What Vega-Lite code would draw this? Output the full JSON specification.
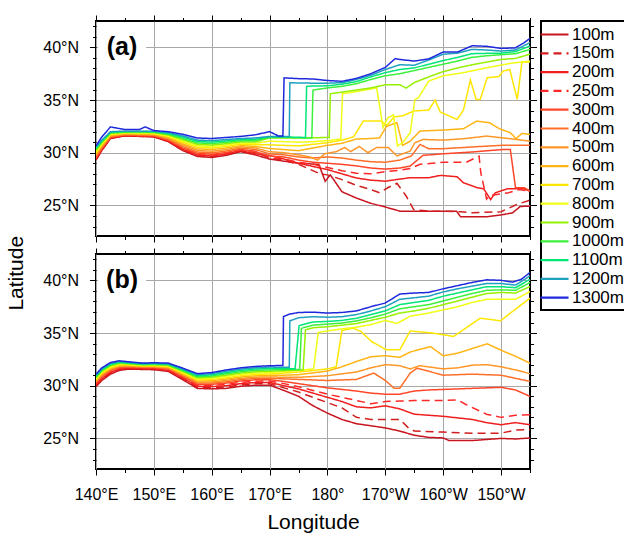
{
"$schema":"https://vega.github.io/schema/vega-lite/v6.json",
"background":"white",
"padding":{"left":5,"top":13,"right":0,"bottom":0},
"config":{
 "font":"Liberation Sans",
 "view":{"stroke":"black","strokeWidth":2},
 "axis":{"labelFont":"Liberation Sans","labelFontSize":16,"labelColor":"black","domain":false,"tickColor":"black","tickWidth":1,"gridColor":"#a8a8a8","gridWidth":1,"titleFont":"Liberation Sans","titleFontWeight":"normal","titleFontSize":21,"titleColor":"black","labelFlush":false,"labelOverlap":false},
 "legend":{"title":null,"orient":"right","offset":3,"labelFont":"Liberation Sans","labelFontSize":17,"labelColor":"black","symbolType":"M-1.7,0H1.7","symbolSize":272,"symbolStrokeWidth":2.2,"rowPadding":0.8,"padding":4,"labelOffset":8,"strokeColor":"black","strokeWidth":2,"fillColor":"white"}
},
"title":{"text":"Latitude","orient":"left","anchor":"middle","fontSize":21,"fontWeight":"normal","font":"Liberation Sans","color":"black","offset":15},
"datasets":{"d":[
{"p":"a","s":"100m","x":140,"y":29.3},{"p":"a","s":"100m","x":141,"y":30.2},{"p":"a","s":"100m","x":142.5,"y":31.35},{"p":"a","s":"100m","x":145,"y":31.6},{"p":"a","s":"100m","x":147.5,"y":31.55},{"p":"a","s":"100m","x":150,"y":31.5},{"p":"a","s":"100m","x":152.5,"y":31.05},{"p":"a","s":"100m","x":155,"y":30.2},{"p":"a","s":"100m","x":157.5,"y":29.65},{"p":"a","s":"100m","x":160,"y":29.55},{"p":"a","s":"100m","x":162.5,"y":29.75},{"p":"a","s":"100m","x":165,"y":30.1},{"p":"a","s":"100m","x":167.5,"y":29.8},{"p":"a","s":"100m","x":170,"y":29.4},{"p":"a","s":"100m","x":172.5,"y":29.2},{"p":"a","s":"100m","x":175,"y":29.0},{"p":"a","s":"100m","x":178.5,"y":28.9},{"p":"a","s":"100m","x":179.6,"y":27.3},{"p":"a","s":"100m","x":180.5,"y":27.9},{"p":"a","s":"100m","x":182.5,"y":26.3},{"p":"a","s":"100m","x":185,"y":25.7},{"p":"a","s":"100m","x":187.5,"y":25.2},{"p":"a","s":"100m","x":190,"y":24.85},{"p":"a","s":"100m","x":192.5,"y":24.46},{"p":"a","s":"100m","x":200,"y":24.46},{"p":"a","s":"100m","x":202.3,"y":24.46},{"p":"a","s":"100m","x":203,"y":23.92},{"p":"a","s":"100m","x":207.5,"y":23.92},{"p":"a","s":"100m","x":210,"y":24.1},{"p":"a","s":"100m","x":212,"y":24.3},{"p":"a","s":"100m","x":213.3,"y":24.9},{"p":"a","s":"100m","x":215,"y":24.94},
{"p":"a","s":"150m","x":140,"y":29.35},{"p":"a","s":"150m","x":141,"y":30.24},{"p":"a","s":"150m","x":142.5,"y":31.38},{"p":"a","s":"150m","x":145,"y":31.62},{"p":"a","s":"150m","x":147.5,"y":31.57},{"p":"a","s":"150m","x":150,"y":31.52},{"p":"a","s":"150m","x":152.5,"y":31.09},{"p":"a","s":"150m","x":155,"y":30.26},{"p":"a","s":"150m","x":157.5,"y":29.72},{"p":"a","s":"150m","x":160,"y":29.62},{"p":"a","s":"150m","x":162.5,"y":29.81},{"p":"a","s":"150m","x":165,"y":30.15},{"p":"a","s":"150m","x":167.5,"y":30.05},{"p":"a","s":"150m","x":170,"y":29.5},{"p":"a","s":"150m","x":172.5,"y":29.3},{"p":"a","s":"150m","x":175,"y":28.9},{"p":"a","s":"150m","x":178.7,"y":28.0},{"p":"a","s":"150m","x":180,"y":27.9},{"p":"a","s":"150m","x":182.5,"y":27.45},{"p":"a","s":"150m","x":185,"y":26.9},{"p":"a","s":"150m","x":187.5,"y":26.5},{"p":"a","s":"150m","x":189,"y":26.2},{"p":"a","s":"150m","x":190.5,"y":26.7},{"p":"a","s":"150m","x":192,"y":27.1},{"p":"a","s":"150m","x":193.6,"y":25.9},{"p":"a","s":"150m","x":194.9,"y":24.6},{"p":"a","s":"150m","x":197.5,"y":24.45},{"p":"a","s":"150m","x":200,"y":24.45},{"p":"a","s":"150m","x":203,"y":24.4},{"p":"a","s":"150m","x":205,"y":24.3},{"p":"a","s":"150m","x":210,"y":24.4},{"p":"a","s":"150m","x":212.7,"y":25.09},{"p":"a","s":"150m","x":215,"y":25.5},
{"p":"a","s":"200m","x":140,"y":29.41},{"p":"a","s":"200m","x":141,"y":30.29},{"p":"a","s":"200m","x":142.5,"y":31.41},{"p":"a","s":"200m","x":145,"y":31.64},{"p":"a","s":"200m","x":147.5,"y":31.59},{"p":"a","s":"200m","x":150,"y":31.55},{"p":"a","s":"200m","x":152.5,"y":31.12},{"p":"a","s":"200m","x":155,"y":30.32},{"p":"a","s":"200m","x":157.5,"y":29.78},{"p":"a","s":"200m","x":160,"y":29.69},{"p":"a","s":"200m","x":162.5,"y":29.88},{"p":"a","s":"200m","x":165,"y":30.21},{"p":"a","s":"200m","x":167.5,"y":29.9},{"p":"a","s":"200m","x":170,"y":29.75},{"p":"a","s":"200m","x":172.5,"y":29.4},{"p":"a","s":"200m","x":175,"y":29.0},{"p":"a","s":"200m","x":177.5,"y":28.7},{"p":"a","s":"200m","x":180,"y":28.4},{"p":"a","s":"200m","x":182.5,"y":28.0},{"p":"a","s":"200m","x":185,"y":27.6},{"p":"a","s":"200m","x":187.5,"y":27.4},{"p":"a","s":"200m","x":190,"y":27.3},{"p":"a","s":"200m","x":192.5,"y":27.5},{"p":"a","s":"200m","x":194.3,"y":27.63},{"p":"a","s":"200m","x":197.5,"y":27.63},{"p":"a","s":"200m","x":199.5,"y":27.85},{"p":"a","s":"200m","x":202.4,"y":27.72},{"p":"a","s":"200m","x":203.5,"y":27.15},{"p":"a","s":"200m","x":205.9,"y":26.68},{"p":"a","s":"200m","x":207,"y":26.58},{"p":"a","s":"200m","x":208.2,"y":25.56},{"p":"a","s":"200m","x":209,"y":26.2},{"p":"a","s":"200m","x":211.1,"y":26.58},{"p":"a","s":"200m","x":213.9,"y":26.58},{"p":"a","s":"200m","x":215,"y":26.36},
{"p":"a","s":"250m","x":140,"y":29.46},{"p":"a","s":"250m","x":141,"y":30.33},{"p":"a","s":"250m","x":142.5,"y":31.43},{"p":"a","s":"250m","x":145,"y":31.66},{"p":"a","s":"250m","x":147.5,"y":31.62},{"p":"a","s":"250m","x":150,"y":31.57},{"p":"a","s":"250m","x":152.5,"y":31.16},{"p":"a","s":"250m","x":155,"y":30.38},{"p":"a","s":"250m","x":157.5,"y":29.85},{"p":"a","s":"250m","x":160,"y":29.76},{"p":"a","s":"250m","x":162.5,"y":29.95},{"p":"a","s":"250m","x":165,"y":30.26},{"p":"a","s":"250m","x":167.5,"y":30.15},{"p":"a","s":"250m","x":170,"y":29.55},{"p":"a","s":"250m","x":172.5,"y":29.4},{"p":"a","s":"250m","x":175,"y":29.1},{"p":"a","s":"250m","x":177.5,"y":28.9},{"p":"a","s":"250m","x":180,"y":28.6},{"p":"a","s":"250m","x":182.5,"y":28.3},{"p":"a","s":"250m","x":185,"y":28.05},{"p":"a","s":"250m","x":187.5,"y":28.0},{"p":"a","s":"250m","x":190,"y":28.2},{"p":"a","s":"250m","x":192.5,"y":28.35},{"p":"a","s":"250m","x":194.3,"y":28.5},{"p":"a","s":"250m","x":196,"y":28.9},{"p":"a","s":"250m","x":200,"y":29.1},{"p":"a","s":"250m","x":204,"y":29.1},{"p":"a","s":"250m","x":206.2,"y":29.68},{"p":"a","s":"250m","x":206.5,"y":28.1},{"p":"a","s":"250m","x":207.5,"y":25.6},{"p":"a","s":"250m","x":208,"y":25.94},{"p":"a","s":"250m","x":211.3,"y":26.2},{"p":"a","s":"250m","x":213.1,"y":26.5},{"p":"a","s":"250m","x":215,"y":26.36},
{"p":"a","s":"300m","x":140,"y":29.53},{"p":"a","s":"300m","x":141,"y":30.39},{"p":"a","s":"300m","x":142.5,"y":31.47},{"p":"a","s":"300m","x":145,"y":31.68},{"p":"a","s":"300m","x":147.5,"y":31.64},{"p":"a","s":"300m","x":150,"y":31.6},{"p":"a","s":"300m","x":152.5,"y":31.21},{"p":"a","s":"300m","x":155,"y":30.46},{"p":"a","s":"300m","x":157.5,"y":29.94},{"p":"a","s":"300m","x":160,"y":29.85},{"p":"a","s":"300m","x":162.5,"y":30.03},{"p":"a","s":"300m","x":165,"y":30.33},{"p":"a","s":"300m","x":167.5,"y":30.1},{"p":"a","s":"300m","x":170,"y":29.7},{"p":"a","s":"300m","x":172.5,"y":29.6},{"p":"a","s":"300m","x":175,"y":29.3},{"p":"a","s":"300m","x":177.5,"y":29.1},{"p":"a","s":"300m","x":180,"y":29.0},{"p":"a","s":"300m","x":182.5,"y":28.9},{"p":"a","s":"300m","x":185,"y":28.75},{"p":"a","s":"300m","x":187.5,"y":28.55},{"p":"a","s":"300m","x":190,"y":28.45},{"p":"a","s":"300m","x":192.5,"y":28.55},{"p":"a","s":"300m","x":194.3,"y":28.74},{"p":"a","s":"300m","x":196.5,"y":29.75},{"p":"a","s":"300m","x":200,"y":29.9},{"p":"a","s":"300m","x":204.7,"y":30.06},{"p":"a","s":"300m","x":210.4,"y":30.31},{"p":"a","s":"300m","x":211.6,"y":30.31},{"p":"a","s":"300m","x":212.5,"y":26.68},{"p":"a","s":"300m","x":214,"y":26.68},{"p":"a","s":"300m","x":215,"y":26.36},
{"p":"a","s":"400m","x":140,"y":29.64},{"p":"a","s":"400m","x":141,"y":30.47},{"p":"a","s":"400m","x":142.5,"y":31.53},{"p":"a","s":"400m","x":145,"y":31.72},{"p":"a","s":"400m","x":147.5,"y":31.69},{"p":"a","s":"400m","x":150,"y":31.65},{"p":"a","s":"400m","x":152.5,"y":31.28},{"p":"a","s":"400m","x":155,"y":30.58},{"p":"a","s":"400m","x":157.5,"y":30.07},{"p":"a","s":"400m","x":160,"y":29.99},{"p":"a","s":"400m","x":162.5,"y":30.16},{"p":"a","s":"400m","x":165,"y":30.44},{"p":"a","s":"400m","x":167.5,"y":30.31},{"p":"a","s":"400m","x":170,"y":29.9},{"p":"a","s":"400m","x":172.5,"y":29.8},{"p":"a","s":"400m","x":175,"y":29.6},{"p":"a","s":"400m","x":177.5,"y":29.5},{"p":"a","s":"400m","x":180,"y":29.6},{"p":"a","s":"400m","x":182.5,"y":29.5},{"p":"a","s":"400m","x":185,"y":29.3},{"p":"a","s":"400m","x":187.5,"y":29.15},{"p":"a","s":"400m","x":190,"y":29.1},{"p":"a","s":"400m","x":192.5,"y":29.3},{"p":"a","s":"400m","x":194.5,"y":29.7},{"p":"a","s":"400m","x":196,"y":30.79},{"p":"a","s":"400m","x":197.5,"y":30.38},{"p":"a","s":"400m","x":200,"y":30.38},{"p":"a","s":"400m","x":205,"y":30.55},{"p":"a","s":"400m","x":210,"y":30.7},{"p":"a","s":"400m","x":215,"y":30.7},
{"p":"a","s":"500m","x":140,"y":29.76},{"p":"a","s":"500m","x":141,"y":30.57},{"p":"a","s":"500m","x":142.5,"y":31.59},{"p":"a","s":"500m","x":145,"y":31.77},{"p":"a","s":"500m","x":147.5,"y":31.74},{"p":"a","s":"500m","x":150,"y":31.7},{"p":"a","s":"500m","x":152.5,"y":31.36},{"p":"a","s":"500m","x":155,"y":30.72},{"p":"a","s":"500m","x":157.5,"y":30.22},{"p":"a","s":"500m","x":160,"y":30.14},{"p":"a","s":"500m","x":162.5,"y":30.3},{"p":"a","s":"500m","x":165,"y":30.56},{"p":"a","s":"500m","x":167.5,"y":30.46},{"p":"a","s":"500m","x":170,"y":30.1},{"p":"a","s":"500m","x":172.5,"y":30.0},{"p":"a","s":"500m","x":175,"y":29.8},{"p":"a","s":"500m","x":177,"y":29.6},{"p":"a","s":"500m","x":178.3,"y":29.3},{"p":"a","s":"500m","x":179.5,"y":29.9},{"p":"a","s":"500m","x":181.5,"y":30.1},{"p":"a","s":"500m","x":183,"y":30.5},{"p":"a","s":"500m","x":184,"y":30.1},{"p":"a","s":"500m","x":185.5,"y":30.6},{"p":"a","s":"500m","x":187,"y":30.0},{"p":"a","s":"500m","x":188.5,"y":30.5},{"p":"a","s":"500m","x":190.5,"y":30.5},{"p":"a","s":"500m","x":192,"y":29.7},{"p":"a","s":"500m","x":194.3,"y":30.16},{"p":"a","s":"500m","x":195.1,"y":30.95},{"p":"a","s":"500m","x":196.5,"y":31.26},{"p":"a","s":"500m","x":200,"y":31.2},{"p":"a","s":"500m","x":203.5,"y":31.33},{"p":"a","s":"500m","x":207.5,"y":31.58},{"p":"a","s":"500m","x":211.6,"y":31.33},{"p":"a","s":"500m","x":215,"y":31.1},
{"p":"a","s":"600m","x":140,"y":29.88},{"p":"a","s":"600m","x":141,"y":30.67},{"p":"a","s":"600m","x":142.5,"y":31.65},{"p":"a","s":"600m","x":145,"y":31.81},{"p":"a","s":"600m","x":147.5,"y":31.78},{"p":"a","s":"600m","x":150,"y":31.76},{"p":"a","s":"600m","x":152.5,"y":31.45},{"p":"a","s":"600m","x":155,"y":30.85},{"p":"a","s":"600m","x":157.5,"y":30.37},{"p":"a","s":"600m","x":160,"y":30.3},{"p":"a","s":"600m","x":162.5,"y":30.45},{"p":"a","s":"600m","x":165,"y":30.68},{"p":"a","s":"600m","x":167.5,"y":30.6},{"p":"a","s":"600m","x":170,"y":30.4},{"p":"a","s":"600m","x":172.5,"y":30.3},{"p":"a","s":"600m","x":175,"y":30.2},{"p":"a","s":"600m","x":177.5,"y":30.45},{"p":"a","s":"600m","x":180,"y":30.7},{"p":"a","s":"600m","x":182.5,"y":30.9},{"p":"a","s":"600m","x":185,"y":31.3},{"p":"a","s":"600m","x":187.5,"y":31.35},{"p":"a","s":"600m","x":189,"y":31.4},{"p":"a","s":"600m","x":190.2,"y":32.5},{"p":"a","s":"600m","x":192,"y":32.85},{"p":"a","s":"600m","x":193,"y":30.7},{"p":"a","s":"600m","x":194.3,"y":31.1},{"p":"a","s":"600m","x":196,"y":32.06},{"p":"a","s":"600m","x":200,"y":32.15},{"p":"a","s":"600m","x":203.5,"y":32.28},{"p":"a","s":"600m","x":205.8,"y":33.0},{"p":"a","s":"600m","x":208,"y":32.85},{"p":"a","s":"600m","x":209.7,"y":32.28},{"p":"a","s":"600m","x":211.6,"y":31.9},{"p":"a","s":"600m","x":212.6,"y":31.33},{"p":"a","s":"600m","x":213.6,"y":31.83},{"p":"a","s":"600m","x":215,"y":31.74},
{"p":"a","s":"700m","x":140,"y":30.01},{"p":"a","s":"700m","x":141,"y":30.77},{"p":"a","s":"700m","x":142.5,"y":31.72},{"p":"a","s":"700m","x":145,"y":31.85},{"p":"a","s":"700m","x":147.5,"y":31.83},{"p":"a","s":"700m","x":150,"y":31.81},{"p":"a","s":"700m","x":152.5,"y":31.53},{"p":"a","s":"700m","x":155,"y":30.99},{"p":"a","s":"700m","x":157.5,"y":30.53},{"p":"a","s":"700m","x":160,"y":30.45},{"p":"a","s":"700m","x":162.5,"y":30.6},{"p":"a","s":"700m","x":165,"y":30.81},{"p":"a","s":"700m","x":167.5,"y":30.75},{"p":"a","s":"700m","x":170,"y":30.75},{"p":"a","s":"700m","x":172.5,"y":30.7},{"p":"a","s":"700m","x":175,"y":30.65},{"p":"a","s":"700m","x":177.5,"y":30.8},{"p":"a","s":"700m","x":180,"y":30.95},{"p":"a","s":"700m","x":182.5,"y":31.2},{"p":"a","s":"700m","x":184.5,"y":31.5},{"p":"a","s":"700m","x":186.2,"y":33.0},{"p":"a","s":"700m","x":189.3,"y":33.0},{"p":"a","s":"700m","x":190.3,"y":32.6},{"p":"a","s":"700m","x":191.5,"y":33.4},{"p":"a","s":"700m","x":193,"y":33.5},{"p":"a","s":"700m","x":194.9,"y":33.96},{"p":"a","s":"700m","x":197.5,"y":34.05},{"p":"a","s":"700m","x":198.6,"y":35.0},{"p":"a","s":"700m","x":199.5,"y":33.86},{"p":"a","s":"700m","x":202.4,"y":33.16},{"p":"a","s":"700m","x":203.5,"y":34.05},{"p":"a","s":"700m","x":204.7,"y":36.9},{"p":"a","s":"700m","x":205.7,"y":35.06},{"p":"a","s":"700m","x":206.4,"y":35.06},{"p":"a","s":"700m","x":207.6,"y":37.12},{"p":"a","s":"700m","x":209.6,"y":37.22},{"p":"a","s":"700m","x":210.4,"y":37.76},{"p":"a","s":"700m","x":211.5,"y":37.9},{"p":"a","s":"700m","x":212.8,"y":35.06},{"p":"a","s":"700m","x":213.6,"y":38.6},{"p":"a","s":"700m","x":215,"y":38.6},
{"p":"a","s":"800m","x":140,"y":30.12},{"p":"a","s":"800m","x":141,"y":30.85},{"p":"a","s":"800m","x":142.5,"y":31.77},{"p":"a","s":"800m","x":145,"y":31.89},{"p":"a","s":"800m","x":147.5,"y":31.88},{"p":"a","s":"800m","x":150,"y":31.86},{"p":"a","s":"800m","x":152.5,"y":31.6},{"p":"a","s":"800m","x":155,"y":31.11},{"p":"a","s":"800m","x":157.5,"y":30.66},{"p":"a","s":"800m","x":160,"y":30.59},{"p":"a","s":"800m","x":162.5,"y":30.73},{"p":"a","s":"800m","x":165,"y":30.92},{"p":"a","s":"800m","x":167.5,"y":30.88},{"p":"a","s":"800m","x":170,"y":31.1},{"p":"a","s":"800m","x":172.5,"y":31.05},{"p":"a","s":"800m","x":175,"y":31.0},{"p":"a","s":"800m","x":177.5,"y":31.05},{"p":"a","s":"800m","x":180,"y":31.15},{"p":"a","s":"800m","x":182.3,"y":31.3},{"p":"a","s":"800m","x":182.6,"y":35.6},{"p":"a","s":"800m","x":185,"y":35.8},{"p":"a","s":"800m","x":188.5,"y":36.15},{"p":"a","s":"800m","x":189.6,"y":32.4},{"p":"a","s":"800m","x":190.4,"y":33.3},{"p":"a","s":"800m","x":191.4,"y":33.6},{"p":"a","s":"800m","x":192.1,"y":30.65},{"p":"a","s":"800m","x":193,"y":30.95},{"p":"a","s":"800m","x":194.3,"y":31.9},{"p":"a","s":"800m","x":195.1,"y":35.06},{"p":"a","s":"800m","x":195.7,"y":35.2},{"p":"a","s":"800m","x":197.5,"y":36.8},{"p":"a","s":"800m","x":200,"y":37.3},{"p":"a","s":"800m","x":203.5,"y":37.6},{"p":"a","s":"800m","x":207.6,"y":38.07},{"p":"a","s":"800m","x":211.6,"y":38.48},{"p":"a","s":"800m","x":215,"y":38.7},
{"p":"a","s":"900m","x":140,"y":30.22},{"p":"a","s":"900m","x":141,"y":30.94},{"p":"a","s":"900m","x":142.5,"y":31.83},{"p":"a","s":"900m","x":145,"y":31.93},{"p":"a","s":"900m","x":147.5,"y":31.92},{"p":"a","s":"900m","x":150,"y":31.91},{"p":"a","s":"900m","x":152.5,"y":31.68},{"p":"a","s":"900m","x":155,"y":31.23},{"p":"a","s":"900m","x":157.5,"y":30.8},{"p":"a","s":"900m","x":160,"y":30.73},{"p":"a","s":"900m","x":162.5,"y":30.86},{"p":"a","s":"900m","x":165,"y":31.02},{"p":"a","s":"900m","x":167.5,"y":31.01},{"p":"a","s":"900m","x":170,"y":31.4},{"p":"a","s":"900m","x":172.5,"y":31.4},{"p":"a","s":"900m","x":175,"y":31.4},{"p":"a","s":"900m","x":177.5,"y":31.42},{"p":"a","s":"900m","x":180.3,"y":31.45},{"p":"a","s":"900m","x":180.5,"y":35.6},{"p":"a","s":"900m","x":182.5,"y":35.75},{"p":"a","s":"900m","x":185,"y":35.95},{"p":"a","s":"900m","x":187.5,"y":36.15},{"p":"a","s":"900m","x":190,"y":36.45},{"p":"a","s":"900m","x":192.5,"y":36.45},{"p":"a","s":"900m","x":193.6,"y":36.14},{"p":"a","s":"900m","x":195,"y":36.65},{"p":"a","s":"900m","x":197.5,"y":37.2},{"p":"a","s":"900m","x":200,"y":37.7},{"p":"a","s":"900m","x":202.5,"y":38.05},{"p":"a","s":"900m","x":205,"y":38.35},{"p":"a","s":"900m","x":207.5,"y":38.6},{"p":"a","s":"900m","x":210,"y":38.85},{"p":"a","s":"900m","x":212.5,"y":38.95},{"p":"a","s":"900m","x":215,"y":39.35},
{"p":"a","s":"1000m","x":140,"y":30.33},{"p":"a","s":"1000m","x":141,"y":31.03},{"p":"a","s":"1000m","x":142.5,"y":31.89},{"p":"a","s":"1000m","x":145,"y":31.97},{"p":"a","s":"1000m","x":147.5,"y":31.96},{"p":"a","s":"1000m","x":150,"y":31.95},{"p":"a","s":"1000m","x":152.5,"y":31.75},{"p":"a","s":"1000m","x":155,"y":31.36},{"p":"a","s":"1000m","x":157.5,"y":30.93},{"p":"a","s":"1000m","x":160,"y":30.87},{"p":"a","s":"1000m","x":162.5,"y":30.99},{"p":"a","s":"1000m","x":165,"y":31.13},{"p":"a","s":"1000m","x":167.5,"y":31.14},{"p":"a","s":"1000m","x":170,"y":31.45},{"p":"a","s":"1000m","x":172.5,"y":31.45},{"p":"a","s":"1000m","x":175,"y":31.42},{"p":"a","s":"1000m","x":177.3,"y":31.4},{"p":"a","s":"1000m","x":177.5,"y":35.95},{"p":"a","s":"1000m","x":180,"y":36.15},{"p":"a","s":"1000m","x":182.5,"y":36.3},{"p":"a","s":"1000m","x":185,"y":36.55},{"p":"a","s":"1000m","x":187.5,"y":36.95},{"p":"a","s":"1000m","x":190,"y":37.3},{"p":"a","s":"1000m","x":192.5,"y":37.5},{"p":"a","s":"1000m","x":195,"y":37.8},{"p":"a","s":"1000m","x":197.5,"y":38.1},{"p":"a","s":"1000m","x":200,"y":38.4},{"p":"a","s":"1000m","x":202.5,"y":38.7},{"p":"a","s":"1000m","x":205,"y":39.05},{"p":"a","s":"1000m","x":207.5,"y":39.2},{"p":"a","s":"1000m","x":210,"y":39.3},{"p":"a","s":"1000m","x":212.5,"y":39.4},{"p":"a","s":"1000m","x":215,"y":39.8},
{"p":"a","s":"1100m","x":140,"y":30.44},{"p":"a","s":"1100m","x":141,"y":31.11},{"p":"a","s":"1100m","x":142.5,"y":31.94},{"p":"a","s":"1100m","x":145,"y":32.01},{"p":"a","s":"1100m","x":147.5,"y":32.01},{"p":"a","s":"1100m","x":150,"y":32.0},{"p":"a","s":"1100m","x":152.5,"y":31.83},{"p":"a","s":"1100m","x":155,"y":31.48},{"p":"a","s":"1100m","x":157.5,"y":31.07},{"p":"a","s":"1100m","x":160,"y":31.01},{"p":"a","s":"1100m","x":162.5,"y":31.12},{"p":"a","s":"1100m","x":165,"y":31.24},{"p":"a","s":"1100m","x":167.5,"y":31.27},{"p":"a","s":"1100m","x":170,"y":31.5},{"p":"a","s":"1100m","x":172.5,"y":31.5},{"p":"a","s":"1100m","x":176.2,"y":31.45},{"p":"a","s":"1100m","x":176.4,"y":36.3},{"p":"a","s":"1100m","x":177.5,"y":36.33},{"p":"a","s":"1100m","x":180,"y":36.35},{"p":"a","s":"1100m","x":182.5,"y":36.5},{"p":"a","s":"1100m","x":185,"y":36.75},{"p":"a","s":"1100m","x":187.5,"y":37.2},{"p":"a","s":"1100m","x":190,"y":37.6},{"p":"a","s":"1100m","x":192.5,"y":37.9},{"p":"a","s":"1100m","x":195,"y":38.05},{"p":"a","s":"1100m","x":197.5,"y":38.4},{"p":"a","s":"1100m","x":200,"y":38.75},{"p":"a","s":"1100m","x":202.5,"y":39.05},{"p":"a","s":"1100m","x":205,"y":39.4},{"p":"a","s":"1100m","x":207.5,"y":39.43},{"p":"a","s":"1100m","x":210,"y":39.45},{"p":"a","s":"1100m","x":212.5,"y":39.6},{"p":"a","s":"1100m","x":215,"y":40.13},
{"p":"a","s":"1200m","x":140,"y":30.55},{"p":"a","s":"1200m","x":141,"y":31.2},{"p":"a","s":"1200m","x":142.5,"y":32.0},{"p":"a","s":"1200m","x":145,"y":32.05},{"p":"a","s":"1200m","x":147.5,"y":32.05},{"p":"a","s":"1200m","x":150,"y":32.05},{"p":"a","s":"1200m","x":152.5,"y":31.9},{"p":"a","s":"1200m","x":155,"y":31.6},{"p":"a","s":"1200m","x":157.5,"y":31.2},{"p":"a","s":"1200m","x":160,"y":31.15},{"p":"a","s":"1200m","x":162.5,"y":31.25},{"p":"a","s":"1200m","x":165,"y":31.35},{"p":"a","s":"1200m","x":167.5,"y":31.4},{"p":"a","s":"1200m","x":170,"y":31.55},{"p":"a","s":"1200m","x":172.5,"y":31.55},{"p":"a","s":"1200m","x":173.4,"y":31.55},{"p":"a","s":"1200m","x":173.5,"y":36.65},{"p":"a","s":"1200m","x":175,"y":36.62},{"p":"a","s":"1200m","x":177.5,"y":36.6},{"p":"a","s":"1200m","x":180,"y":36.6},{"p":"a","s":"1200m","x":182.5,"y":36.65},{"p":"a","s":"1200m","x":185,"y":36.95},{"p":"a","s":"1200m","x":187.5,"y":37.35},{"p":"a","s":"1200m","x":190,"y":37.9},{"p":"a","s":"1200m","x":192.5,"y":38.35},{"p":"a","s":"1200m","x":195,"y":38.3},{"p":"a","s":"1200m","x":197.5,"y":38.8},{"p":"a","s":"1200m","x":200,"y":39.35},{"p":"a","s":"1200m","x":202.5,"y":39.45},{"p":"a","s":"1200m","x":205,"y":39.8},{"p":"a","s":"1200m","x":207.5,"y":39.75},{"p":"a","s":"1200m","x":210,"y":39.65},{"p":"a","s":"1200m","x":212.5,"y":39.75},{"p":"a","s":"1200m","x":215,"y":40.45},
{"p":"a","s":"1300m","x":140,"y":30.65},{"p":"a","s":"1300m","x":141,"y":31.5},{"p":"a","s":"1300m","x":142.5,"y":32.45},{"p":"a","s":"1300m","x":145,"y":32.2},{"p":"a","s":"1300m","x":147.5,"y":32.2},{"p":"a","s":"1300m","x":148.5,"y":32.45},{"p":"a","s":"1300m","x":150,"y":32.1},{"p":"a","s":"1300m","x":152.5,"y":32.0},{"p":"a","s":"1300m","x":155,"y":31.75},{"p":"a","s":"1300m","x":157.5,"y":31.4},{"p":"a","s":"1300m","x":160,"y":31.35},{"p":"a","s":"1300m","x":162.5,"y":31.45},{"p":"a","s":"1300m","x":165,"y":31.55},{"p":"a","s":"1300m","x":167.5,"y":31.7},{"p":"a","s":"1300m","x":170,"y":32.0},{"p":"a","s":"1300m","x":171.5,"y":31.6},{"p":"a","s":"1300m","x":172.3,"y":31.6},{"p":"a","s":"1300m","x":172.5,"y":37.1},{"p":"a","s":"1300m","x":175,"y":37.03},{"p":"a","s":"1300m","x":177.5,"y":37.0},{"p":"a","s":"1300m","x":180,"y":36.85},{"p":"a","s":"1300m","x":182.5,"y":36.78},{"p":"a","s":"1300m","x":185,"y":37.05},{"p":"a","s":"1300m","x":187.5,"y":37.5},{"p":"a","s":"1300m","x":190,"y":38.1},{"p":"a","s":"1300m","x":191.7,"y":38.93},{"p":"a","s":"1300m","x":192.5,"y":38.85},{"p":"a","s":"1300m","x":195,"y":38.7},{"p":"a","s":"1300m","x":197.5,"y":38.9},{"p":"a","s":"1300m","x":200,"y":39.56},{"p":"a","s":"1300m","x":202.5,"y":39.56},{"p":"a","s":"1300m","x":205,"y":40.15},{"p":"a","s":"1300m","x":207.5,"y":40.1},{"p":"a","s":"1300m","x":210,"y":39.9},{"p":"a","s":"1300m","x":212.5,"y":39.95},{"p":"a","s":"1300m","x":214,"y":40.45},{"p":"a","s":"1300m","x":215,"y":40.85},
{"p":"b","s":"100m","x":140,"y":29.9},{"p":"b","s":"100m","x":141,"y":30.5},{"p":"b","s":"100m","x":142.5,"y":31.1},{"p":"b","s":"100m","x":144,"y":31.45},{"p":"b","s":"100m","x":145.5,"y":31.57},{"p":"b","s":"100m","x":148,"y":31.55},{"p":"b","s":"100m","x":150,"y":31.52},{"p":"b","s":"100m","x":152.5,"y":31.36},{"p":"b","s":"100m","x":155,"y":30.57},{"p":"b","s":"100m","x":157.5,"y":29.75},{"p":"b","s":"100m","x":160,"y":29.7},{"p":"b","s":"100m","x":162.5,"y":29.75},{"p":"b","s":"100m","x":165,"y":29.95},{"p":"b","s":"100m","x":167.5,"y":30.05},{"p":"b","s":"100m","x":170,"y":30.05},{"p":"b","s":"100m","x":172.5,"y":29.55},{"p":"b","s":"100m","x":175,"y":29.0},{"p":"b","s":"100m","x":177.5,"y":28.1},{"p":"b","s":"100m","x":180,"y":27.4},{"p":"b","s":"100m","x":182.5,"y":26.8},{"p":"b","s":"100m","x":185,"y":26.4},{"p":"b","s":"100m","x":187.5,"y":26.2},{"p":"b","s":"100m","x":190,"y":26.0},{"p":"b","s":"100m","x":192.5,"y":25.7},{"p":"b","s":"100m","x":195,"y":25.3},{"p":"b","s":"100m","x":197.5,"y":25.1},{"p":"b","s":"100m","x":200,"y":25.05},{"p":"b","s":"100m","x":201,"y":24.8},{"p":"b","s":"100m","x":205,"y":24.8},{"p":"b","s":"100m","x":210,"y":25.0},{"p":"b","s":"100m","x":212.5,"y":24.95},{"p":"b","s":"100m","x":215,"y":25.04},
{"p":"b","s":"150m","x":140,"y":29.99},{"p":"b","s":"150m","x":141,"y":30.59},{"p":"b","s":"150m","x":142.5,"y":31.18},{"p":"b","s":"150m","x":144,"y":31.52},{"p":"b","s":"150m","x":145.5,"y":31.62},{"p":"b","s":"150m","x":148,"y":31.59},{"p":"b","s":"150m","x":150,"y":31.57},{"p":"b","s":"150m","x":152.5,"y":31.42},{"p":"b","s":"150m","x":155,"y":30.65},{"p":"b","s":"150m","x":157.5,"y":29.85},{"p":"b","s":"150m","x":160,"y":29.81},{"p":"b","s":"150m","x":162.5,"y":29.88},{"p":"b","s":"150m","x":165,"y":30.08},{"p":"b","s":"150m","x":167.5,"y":30.18},{"p":"b","s":"150m","x":170,"y":30.18},{"p":"b","s":"150m","x":172.5,"y":29.8},{"p":"b","s":"150m","x":175,"y":29.4},{"p":"b","s":"150m","x":177.5,"y":28.9},{"p":"b","s":"150m","x":180,"y":28.4},{"p":"b","s":"150m","x":182.5,"y":27.9},{"p":"b","s":"150m","x":185,"y":27.0},{"p":"b","s":"150m","x":187.5,"y":26.8},{"p":"b","s":"150m","x":190,"y":26.8},{"p":"b","s":"150m","x":192.5,"y":26.8},{"p":"b","s":"150m","x":194,"y":26.0},{"p":"b","s":"150m","x":195,"y":25.7},{"p":"b","s":"150m","x":200,"y":25.6},{"p":"b","s":"150m","x":205,"y":25.5},{"p":"b","s":"150m","x":210,"y":25.5},{"p":"b","s":"150m","x":212.5,"y":25.8},{"p":"b","s":"150m","x":215,"y":25.83},
{"p":"b","s":"200m","x":140,"y":30.07},{"p":"b","s":"200m","x":141,"y":30.67},{"p":"b","s":"200m","x":142.5,"y":31.26},{"p":"b","s":"200m","x":144,"y":31.58},{"p":"b","s":"200m","x":145.5,"y":31.67},{"p":"b","s":"200m","x":148,"y":31.64},{"p":"b","s":"200m","x":150,"y":31.61},{"p":"b","s":"200m","x":152.5,"y":31.47},{"p":"b","s":"200m","x":155,"y":30.73},{"p":"b","s":"200m","x":157.5,"y":29.95},{"p":"b","s":"200m","x":160,"y":29.92},{"p":"b","s":"200m","x":162.5,"y":30.0},{"p":"b","s":"200m","x":165,"y":30.2},{"p":"b","s":"200m","x":167.5,"y":30.3},{"p":"b","s":"200m","x":170,"y":30.31},{"p":"b","s":"200m","x":172.5,"y":30.0},{"p":"b","s":"200m","x":175,"y":29.7},{"p":"b","s":"200m","x":177.5,"y":29.3},{"p":"b","s":"200m","x":180,"y":28.9},{"p":"b","s":"200m","x":182.5,"y":28.5},{"p":"b","s":"200m","x":185,"y":28.0},{"p":"b","s":"200m","x":187.5,"y":27.9},{"p":"b","s":"200m","x":190,"y":28.1},{"p":"b","s":"200m","x":192.5,"y":27.8},{"p":"b","s":"200m","x":195,"y":27.3},{"p":"b","s":"200m","x":200,"y":27.1},{"p":"b","s":"200m","x":205,"y":26.8},{"p":"b","s":"200m","x":207.5,"y":26.5},{"p":"b","s":"200m","x":210,"y":26.3},{"p":"b","s":"200m","x":212.5,"y":26.5},{"p":"b","s":"200m","x":215,"y":26.3},
{"p":"b","s":"250m","x":140,"y":30.16},{"p":"b","s":"250m","x":141,"y":30.76},{"p":"b","s":"250m","x":142.5,"y":31.34},{"p":"b","s":"250m","x":144,"y":31.65},{"p":"b","s":"250m","x":145.5,"y":31.72},{"p":"b","s":"250m","x":148,"y":31.68},{"p":"b","s":"250m","x":150,"y":31.66},{"p":"b","s":"250m","x":152.5,"y":31.53},{"p":"b","s":"250m","x":155,"y":30.81},{"p":"b","s":"250m","x":157.5,"y":30.05},{"p":"b","s":"250m","x":160,"y":30.03},{"p":"b","s":"250m","x":162.5,"y":30.13},{"p":"b","s":"250m","x":165,"y":30.33},{"p":"b","s":"250m","x":167.5,"y":30.43},{"p":"b","s":"250m","x":170,"y":30.45},{"p":"b","s":"250m","x":172.5,"y":30.2},{"p":"b","s":"250m","x":175,"y":29.9},{"p":"b","s":"250m","x":177.5,"y":29.55},{"p":"b","s":"250m","x":180,"y":29.2},{"p":"b","s":"250m","x":182.5,"y":28.9},{"p":"b","s":"250m","x":185,"y":28.6},{"p":"b","s":"250m","x":187.5,"y":28.3},{"p":"b","s":"250m","x":190,"y":28.5},{"p":"b","s":"250m","x":192.5,"y":28.55},{"p":"b","s":"250m","x":195,"y":28.6},{"p":"b","s":"250m","x":200,"y":28.6},{"p":"b","s":"250m","x":202.5,"y":28.65},{"p":"b","s":"250m","x":204,"y":28.2},{"p":"b","s":"250m","x":207.5,"y":27.3},{"p":"b","s":"250m","x":210,"y":27.0},{"p":"b","s":"250m","x":212.5,"y":27.2},{"p":"b","s":"250m","x":215,"y":27.25},
{"p":"b","s":"300m","x":140,"y":30.24},{"p":"b","s":"300m","x":141,"y":30.84},{"p":"b","s":"300m","x":142.5,"y":31.41},{"p":"b","s":"300m","x":144,"y":31.71},{"p":"b","s":"300m","x":145.5,"y":31.77},{"p":"b","s":"300m","x":148,"y":31.72},{"p":"b","s":"300m","x":150,"y":31.71},{"p":"b","s":"300m","x":152.5,"y":31.59},{"p":"b","s":"300m","x":155,"y":30.88},{"p":"b","s":"300m","x":157.5,"y":30.15},{"p":"b","s":"300m","x":160,"y":30.14},{"p":"b","s":"300m","x":162.5,"y":30.25},{"p":"b","s":"300m","x":165,"y":30.45},{"p":"b","s":"300m","x":167.5,"y":30.56},{"p":"b","s":"300m","x":170,"y":30.58},{"p":"b","s":"300m","x":172.5,"y":30.4},{"p":"b","s":"300m","x":175,"y":30.2},{"p":"b","s":"300m","x":177.5,"y":30.0},{"p":"b","s":"300m","x":180,"y":29.8},{"p":"b","s":"300m","x":182.5,"y":29.65},{"p":"b","s":"300m","x":185,"y":29.5},{"p":"b","s":"300m","x":187.5,"y":29.3},{"p":"b","s":"300m","x":190,"y":29.2},{"p":"b","s":"300m","x":192.5,"y":29.2},{"p":"b","s":"300m","x":195,"y":29.5},{"p":"b","s":"300m","x":197.5,"y":29.6},{"p":"b","s":"300m","x":200,"y":29.65},{"p":"b","s":"300m","x":205,"y":29.75},{"p":"b","s":"300m","x":210,"y":29.85},{"p":"b","s":"300m","x":212.5,"y":29.6},{"p":"b","s":"300m","x":215,"y":28.99},
{"p":"b","s":"400m","x":140,"y":30.33},{"p":"b","s":"400m","x":141,"y":30.93},{"p":"b","s":"400m","x":142.5,"y":31.49},{"p":"b","s":"400m","x":144,"y":31.78},{"p":"b","s":"400m","x":145.5,"y":31.82},{"p":"b","s":"400m","x":148,"y":31.76},{"p":"b","s":"400m","x":150,"y":31.76},{"p":"b","s":"400m","x":152.5,"y":31.64},{"p":"b","s":"400m","x":155,"y":30.96},{"p":"b","s":"400m","x":157.5,"y":30.25},{"p":"b","s":"400m","x":160,"y":30.25},{"p":"b","s":"400m","x":162.5,"y":30.38},{"p":"b","s":"400m","x":165,"y":30.58},{"p":"b","s":"400m","x":167.5,"y":30.69},{"p":"b","s":"400m","x":170,"y":30.71},{"p":"b","s":"400m","x":172.5,"y":30.65},{"p":"b","s":"400m","x":175,"y":30.6},{"p":"b","s":"400m","x":180,"y":30.5},{"p":"b","s":"400m","x":185,"y":30.6},{"p":"b","s":"400m","x":188,"y":31.2},{"p":"b","s":"400m","x":190,"y":30.5},{"p":"b","s":"400m","x":191.5,"y":29.77},{"p":"b","s":"400m","x":192.5,"y":29.77},{"p":"b","s":"400m","x":194.3,"y":31.2},{"p":"b","s":"400m","x":195.5,"y":31.67},{"p":"b","s":"400m","x":200,"y":31.0},{"p":"b","s":"400m","x":205,"y":31.1},{"p":"b","s":"400m","x":210,"y":31.0},{"p":"b","s":"400m","x":215,"y":30.41},
{"p":"b","s":"500m","x":140,"y":30.41},{"p":"b","s":"500m","x":141,"y":31.01},{"p":"b","s":"500m","x":142.5,"y":31.57},{"p":"b","s":"500m","x":144,"y":31.84},{"p":"b","s":"500m","x":145.5,"y":31.87},{"p":"b","s":"500m","x":148,"y":31.81},{"p":"b","s":"500m","x":150,"y":31.8},{"p":"b","s":"500m","x":152.5,"y":31.7},{"p":"b","s":"500m","x":155,"y":31.04},{"p":"b","s":"500m","x":157.5,"y":30.35},{"p":"b","s":"500m","x":160,"y":30.36},{"p":"b","s":"500m","x":162.5,"y":30.5},{"p":"b","s":"500m","x":165,"y":30.7},{"p":"b","s":"500m","x":167.5,"y":30.81},{"p":"b","s":"500m","x":170,"y":30.84},{"p":"b","s":"500m","x":172.5,"y":30.8},{"p":"b","s":"500m","x":175,"y":30.8},{"p":"b","s":"500m","x":180,"y":30.95},{"p":"b","s":"500m","x":185,"y":31.3},{"p":"b","s":"500m","x":187.5,"y":31.7},{"p":"b","s":"500m","x":190,"y":32.0},{"p":"b","s":"500m","x":192.5,"y":31.9},{"p":"b","s":"500m","x":194.3,"y":31.6},{"p":"b","s":"500m","x":196,"y":31.9},{"p":"b","s":"500m","x":200,"y":31.6},{"p":"b","s":"500m","x":202.5,"y":31.7},{"p":"b","s":"500m","x":205,"y":31.95},{"p":"b","s":"500m","x":207.5,"y":32.0},{"p":"b","s":"500m","x":210,"y":31.8},{"p":"b","s":"500m","x":212.5,"y":31.5},{"p":"b","s":"500m","x":215,"y":31.14},
{"p":"b","s":"600m","x":140,"y":30.5},{"p":"b","s":"600m","x":141,"y":31.1},{"p":"b","s":"600m","x":142.5,"y":31.65},{"p":"b","s":"600m","x":144,"y":31.91},{"p":"b","s":"600m","x":145.5,"y":31.93},{"p":"b","s":"600m","x":148,"y":31.85},{"p":"b","s":"600m","x":150,"y":31.85},{"p":"b","s":"600m","x":152.5,"y":31.76},{"p":"b","s":"600m","x":155,"y":31.12},{"p":"b","s":"600m","x":157.5,"y":30.45},{"p":"b","s":"600m","x":160,"y":30.48},{"p":"b","s":"600m","x":162.5,"y":30.63},{"p":"b","s":"600m","x":165,"y":30.83},{"p":"b","s":"600m","x":167.5,"y":30.94},{"p":"b","s":"600m","x":170,"y":30.98},{"p":"b","s":"600m","x":172.5,"y":31.0},{"p":"b","s":"600m","x":175,"y":31.05},{"p":"b","s":"600m","x":180,"y":31.4},{"p":"b","s":"600m","x":182.5,"y":31.8},{"p":"b","s":"600m","x":185,"y":32.3},{"p":"b","s":"600m","x":187.5,"y":32.75},{"p":"b","s":"600m","x":190,"y":32.85},{"p":"b","s":"600m","x":192.5,"y":32.7},{"p":"b","s":"600m","x":194.3,"y":33.2},{"p":"b","s":"600m","x":197.8,"y":33.72},{"p":"b","s":"600m","x":200,"y":32.84},{"p":"b","s":"600m","x":202.5,"y":33.09},{"p":"b","s":"600m","x":207.6,"y":33.98},{"p":"b","s":"600m","x":210.5,"y":33.25},{"p":"b","s":"600m","x":212.5,"y":32.8},{"p":"b","s":"600m","x":215,"y":32.14},
{"p":"b","s":"700m","x":140,"y":30.59},{"p":"b","s":"700m","x":141,"y":31.19},{"p":"b","s":"700m","x":142.5,"y":31.73},{"p":"b","s":"700m","x":144,"y":31.98},{"p":"b","s":"700m","x":145.5,"y":31.98},{"p":"b","s":"700m","x":148,"y":31.89},{"p":"b","s":"700m","x":150,"y":31.9},{"p":"b","s":"700m","x":152.5,"y":31.81},{"p":"b","s":"700m","x":155,"y":31.2},{"p":"b","s":"700m","x":157.5,"y":30.55},{"p":"b","s":"700m","x":160,"y":30.59},{"p":"b","s":"700m","x":162.5,"y":30.75},{"p":"b","s":"700m","x":165,"y":30.95},{"p":"b","s":"700m","x":167.5,"y":31.07},{"p":"b","s":"700m","x":170,"y":31.11},{"p":"b","s":"700m","x":175,"y":31.3},{"p":"b","s":"700m","x":180,"y":31.6},{"p":"b","s":"700m","x":181.5,"y":31.8},{"p":"b","s":"700m","x":182.5,"y":35.24},{"p":"b","s":"700m","x":184.4,"y":35.46},{"p":"b","s":"700m","x":185.8,"y":35.15},{"p":"b","s":"700m","x":187.6,"y":34.2},{"p":"b","s":"700m","x":190.2,"y":33.41},{"p":"b","s":"700m","x":192.5,"y":33.41},{"p":"b","s":"700m","x":194.3,"y":35.2},{"p":"b","s":"700m","x":198.3,"y":34.99},{"p":"b","s":"700m","x":201.8,"y":34.68},{"p":"b","s":"700m","x":206.4,"y":36.41},{"p":"b","s":"700m","x":209.9,"y":36.16},{"p":"b","s":"700m","x":211.6,"y":36.89},{"p":"b","s":"700m","x":215,"y":38.31},
{"p":"b","s":"800m","x":140,"y":30.67},{"p":"b","s":"800m","x":141,"y":31.27},{"p":"b","s":"800m","x":142.5,"y":31.81},{"p":"b","s":"800m","x":144,"y":32.04},{"p":"b","s":"800m","x":145.5,"y":32.03},{"p":"b","s":"800m","x":148,"y":31.94},{"p":"b","s":"800m","x":150,"y":31.94},{"p":"b","s":"800m","x":152.5,"y":31.87},{"p":"b","s":"800m","x":155,"y":31.28},{"p":"b","s":"800m","x":157.5,"y":30.65},{"p":"b","s":"800m","x":160,"y":30.7},{"p":"b","s":"800m","x":162.5,"y":30.88},{"p":"b","s":"800m","x":165,"y":31.08},{"p":"b","s":"800m","x":167.5,"y":31.19},{"p":"b","s":"800m","x":170,"y":31.24},{"p":"b","s":"800m","x":175,"y":31.45},{"p":"b","s":"800m","x":177.6,"y":31.6},{"p":"b","s":"800m","x":178.4,"y":35.05},{"p":"b","s":"800m","x":180,"y":35.2},{"p":"b","s":"800m","x":182.5,"y":35.4},{"p":"b","s":"800m","x":185,"y":35.55},{"p":"b","s":"800m","x":187.5,"y":35.8},{"p":"b","s":"800m","x":190,"y":36.2},{"p":"b","s":"800m","x":192,"y":35.9},{"p":"b","s":"800m","x":194.3,"y":36.6},{"p":"b","s":"800m","x":197.5,"y":36.9},{"p":"b","s":"800m","x":200,"y":37.2},{"p":"b","s":"800m","x":202.5,"y":37.5},{"p":"b","s":"800m","x":205,"y":37.9},{"p":"b","s":"800m","x":207.5,"y":38.2},{"p":"b","s":"800m","x":210,"y":38.2},{"p":"b","s":"800m","x":212.5,"y":38.2},{"p":"b","s":"800m","x":215,"y":38.94},
{"p":"b","s":"900m","x":140,"y":30.76},{"p":"b","s":"900m","x":141,"y":31.36},{"p":"b","s":"900m","x":142.5,"y":31.89},{"p":"b","s":"900m","x":144,"y":32.11},{"p":"b","s":"900m","x":145.5,"y":32.08},{"p":"b","s":"900m","x":148,"y":31.98},{"p":"b","s":"900m","x":150,"y":31.99},{"p":"b","s":"900m","x":152.5,"y":31.92},{"p":"b","s":"900m","x":155,"y":31.36},{"p":"b","s":"900m","x":157.5,"y":30.75},{"p":"b","s":"900m","x":160,"y":30.81},{"p":"b","s":"900m","x":162.5,"y":31.0},{"p":"b","s":"900m","x":165,"y":31.2},{"p":"b","s":"900m","x":167.5,"y":31.32},{"p":"b","s":"900m","x":170,"y":31.37},{"p":"b","s":"900m","x":175.8,"y":31.5},{"p":"b","s":"900m","x":176.2,"y":35.3},{"p":"b","s":"900m","x":177.5,"y":35.5},{"p":"b","s":"900m","x":180,"y":35.6},{"p":"b","s":"900m","x":182.5,"y":35.75},{"p":"b","s":"900m","x":185,"y":35.9},{"p":"b","s":"900m","x":187.5,"y":36.2},{"p":"b","s":"900m","x":190,"y":36.5},{"p":"b","s":"900m","x":192.5,"y":36.9},{"p":"b","s":"900m","x":195,"y":37.1},{"p":"b","s":"900m","x":197.5,"y":37.35},{"p":"b","s":"900m","x":200,"y":37.7},{"p":"b","s":"900m","x":202.5,"y":38.05},{"p":"b","s":"900m","x":205,"y":38.4},{"p":"b","s":"900m","x":207.5,"y":38.75},{"p":"b","s":"900m","x":210,"y":38.85},{"p":"b","s":"900m","x":212.5,"y":38.8},{"p":"b","s":"900m","x":215,"y":39.41},
{"p":"b","s":"1000m","x":140,"y":30.84},{"p":"b","s":"1000m","x":141,"y":31.44},{"p":"b","s":"1000m","x":142.5,"y":31.96},{"p":"b","s":"1000m","x":144,"y":32.17},{"p":"b","s":"1000m","x":145.5,"y":32.13},{"p":"b","s":"1000m","x":148,"y":32.02},{"p":"b","s":"1000m","x":150,"y":32.04},{"p":"b","s":"1000m","x":152.5,"y":31.98},{"p":"b","s":"1000m","x":155,"y":31.43},{"p":"b","s":"1000m","x":157.5,"y":30.85},{"p":"b","s":"1000m","x":160,"y":30.92},{"p":"b","s":"1000m","x":162.5,"y":31.13},{"p":"b","s":"1000m","x":165,"y":31.33},{"p":"b","s":"1000m","x":167.5,"y":31.45},{"p":"b","s":"1000m","x":170,"y":31.5},{"p":"b","s":"1000m","x":175.2,"y":31.55},{"p":"b","s":"1000m","x":175.5,"y":35.45},{"p":"b","s":"1000m","x":177.5,"y":35.75},{"p":"b","s":"1000m","x":180,"y":35.85},{"p":"b","s":"1000m","x":182.5,"y":35.95},{"p":"b","s":"1000m","x":185,"y":36.15},{"p":"b","s":"1000m","x":187.5,"y":36.45},{"p":"b","s":"1000m","x":190,"y":36.8},{"p":"b","s":"1000m","x":192.5,"y":37.3},{"p":"b","s":"1000m","x":195,"y":37.5},{"p":"b","s":"1000m","x":197.5,"y":37.7},{"p":"b","s":"1000m","x":200,"y":38.05},{"p":"b","s":"1000m","x":202.5,"y":38.4},{"p":"b","s":"1000m","x":205,"y":38.75},{"p":"b","s":"1000m","x":207.5,"y":39.05},{"p":"b","s":"1000m","x":210,"y":39.1},{"p":"b","s":"1000m","x":212.5,"y":39.05},{"p":"b","s":"1000m","x":215,"y":39.79},
{"p":"b","s":"1100m","x":140,"y":30.93},{"p":"b","s":"1100m","x":141,"y":31.53},{"p":"b","s":"1100m","x":142.5,"y":32.04},{"p":"b","s":"1100m","x":144,"y":32.24},{"p":"b","s":"1100m","x":145.5,"y":32.18},{"p":"b","s":"1100m","x":148,"y":32.06},{"p":"b","s":"1100m","x":150,"y":32.09},{"p":"b","s":"1100m","x":152.5,"y":32.04},{"p":"b","s":"1100m","x":155,"y":31.51},{"p":"b","s":"1100m","x":157.5,"y":30.95},{"p":"b","s":"1100m","x":160,"y":31.03},{"p":"b","s":"1100m","x":162.5,"y":31.25},{"p":"b","s":"1100m","x":165,"y":31.45},{"p":"b","s":"1100m","x":167.5,"y":31.58},{"p":"b","s":"1100m","x":170,"y":31.64},{"p":"b","s":"1100m","x":174.4,"y":31.6},{"p":"b","s":"1100m","x":175.1,"y":35.7},{"p":"b","s":"1100m","x":177.5,"y":36.05},{"p":"b","s":"1100m","x":180,"y":36.1},{"p":"b","s":"1100m","x":182.5,"y":36.2},{"p":"b","s":"1100m","x":185,"y":36.4},{"p":"b","s":"1100m","x":187.5,"y":36.75},{"p":"b","s":"1100m","x":190,"y":37.1},{"p":"b","s":"1100m","x":192.5,"y":37.7},{"p":"b","s":"1100m","x":195,"y":37.9},{"p":"b","s":"1100m","x":197.5,"y":38.1},{"p":"b","s":"1100m","x":200,"y":38.5},{"p":"b","s":"1100m","x":202.5,"y":38.8},{"p":"b","s":"1100m","x":205,"y":39.1},{"p":"b","s":"1100m","x":207.5,"y":39.4},{"p":"b","s":"1100m","x":210,"y":39.4},{"p":"b","s":"1100m","x":212.5,"y":39.3},{"p":"b","s":"1100m","x":215,"y":40.1},
{"p":"b","s":"1200m","x":140,"y":31.01},{"p":"b","s":"1200m","x":141,"y":31.61},{"p":"b","s":"1200m","x":142.5,"y":32.12},{"p":"b","s":"1200m","x":144,"y":32.3},{"p":"b","s":"1200m","x":145.5,"y":32.23},{"p":"b","s":"1200m","x":148,"y":32.11},{"p":"b","s":"1200m","x":150,"y":32.13},{"p":"b","s":"1200m","x":152.5,"y":32.09},{"p":"b","s":"1200m","x":155,"y":31.59},{"p":"b","s":"1200m","x":157.5,"y":31.05},{"p":"b","s":"1200m","x":160,"y":31.14},{"p":"b","s":"1200m","x":162.5,"y":31.38},{"p":"b","s":"1200m","x":165,"y":31.58},{"p":"b","s":"1200m","x":167.5,"y":31.7},{"p":"b","s":"1200m","x":170,"y":31.77},{"p":"b","s":"1200m","x":173.4,"y":31.75},{"p":"b","s":"1200m","x":173.5,"y":36.16},{"p":"b","s":"1200m","x":175,"y":36.45},{"p":"b","s":"1200m","x":177.5,"y":36.55},{"p":"b","s":"1200m","x":180,"y":36.5},{"p":"b","s":"1200m","x":182.5,"y":36.55},{"p":"b","s":"1200m","x":185,"y":36.75},{"p":"b","s":"1200m","x":187.5,"y":37.1},{"p":"b","s":"1200m","x":190,"y":37.5},{"p":"b","s":"1200m","x":192.5,"y":38.2},{"p":"b","s":"1200m","x":195,"y":38.35},{"p":"b","s":"1200m","x":197.5,"y":38.5},{"p":"b","s":"1200m","x":200,"y":38.9},{"p":"b","s":"1200m","x":202.5,"y":39.2},{"p":"b","s":"1200m","x":205,"y":39.45},{"p":"b","s":"1200m","x":207.5,"y":39.7},{"p":"b","s":"1200m","x":210,"y":39.7},{"p":"b","s":"1200m","x":212.5,"y":39.55},{"p":"b","s":"1200m","x":215,"y":40.42},
{"p":"b","s":"1300m","x":140,"y":31.1},{"p":"b","s":"1300m","x":141,"y":31.7},{"p":"b","s":"1300m","x":142.5,"y":32.2},{"p":"b","s":"1300m","x":144,"y":32.37},{"p":"b","s":"1300m","x":145.5,"y":32.28},{"p":"b","s":"1300m","x":148,"y":32.15},{"p":"b","s":"1300m","x":150,"y":32.18},{"p":"b","s":"1300m","x":152.5,"y":32.15},{"p":"b","s":"1300m","x":155,"y":31.67},{"p":"b","s":"1300m","x":157.5,"y":31.15},{"p":"b","s":"1300m","x":160,"y":31.25},{"p":"b","s":"1300m","x":162.5,"y":31.5},{"p":"b","s":"1300m","x":165,"y":31.7},{"p":"b","s":"1300m","x":167.5,"y":31.83},{"p":"b","s":"1300m","x":170,"y":31.9},{"p":"b","s":"1300m","x":172.3,"y":31.92},{"p":"b","s":"1300m","x":172.4,"y":36.57},{"p":"b","s":"1300m","x":173.5,"y":36.8},{"p":"b","s":"1300m","x":175,"y":36.95},{"p":"b","s":"1300m","x":177.5,"y":36.98},{"p":"b","s":"1300m","x":180,"y":36.9},{"p":"b","s":"1300m","x":182.5,"y":36.95},{"p":"b","s":"1300m","x":185,"y":37.1},{"p":"b","s":"1300m","x":187.5,"y":37.5},{"p":"b","s":"1300m","x":190,"y":37.85},{"p":"b","s":"1300m","x":192.5,"y":38.7},{"p":"b","s":"1300m","x":195,"y":38.8},{"p":"b","s":"1300m","x":197.5,"y":38.85},{"p":"b","s":"1300m","x":200,"y":39.2},{"p":"b","s":"1300m","x":202.5,"y":39.5},{"p":"b","s":"1300m","x":205,"y":39.8},{"p":"b","s":"1300m","x":207.5,"y":40.05},{"p":"b","s":"1300m","x":210,"y":40.0},{"p":"b","s":"1300m","x":212,"y":39.83},{"p":"b","s":"1300m","x":213.5,"y":40.1},{"p":"b","s":"1300m","x":215,"y":40.74}
],
"lab":[{"p":"a","t":"(a)","x":144.5,"y":40},{"p":"b","t":"(b)","x":144.5,"y":40}]
},
"spacing":2,
"resolve":{"scale":{"color":"shared","strokeDash":"shared"},"legend":{"color":"shared","strokeDash":"shared"}},
"vconcat":[
{"width":434,"height":215,
 "resolve":{"axis":{"x":"independent","y":"independent"}},
 "layer":[
 {"data":{"name":"d"},"transform":[{"filter":"datum.p === 'a'"}],
  "mark":{"type":"line","strokeWidth":1.5,"clip":true},
  "encoding":{
   "x":{"field":"x","type":"quantitative","scale":{"domain":[140,215],"nice":false,"zero":false},
        "axis":{"orient":"bottom","values":[140,145,150,155,160,165,170,175,180,185,190,195,200,205,210,215],"labels":false,"title":null,"grid":true,
                "gridOpacity":{"condition":{"test":"datum.value % 10 === 0","value":1},"value":0},
                "tickSize":{"condition":{"test":"datum.value % 10 === 0","value":6},"value":3.5}}},
   "y":{"field":"y","type":"quantitative","scale":{"domain":[22.1,42.5],"nice":false,"zero":false},
        "axis":{"orient":"left","values":[23,24,25,26,27,28,29,30,31,32,33,34,35,36,37,38,39,40,41,42],"title":null,"grid":true,"labelPadding":11,
                "labelExpr":"datum.value % 5 === 0 ? datum.value + '°N' : ''",
                "gridOpacity":{"condition":{"test":"datum.value % 5 === 0","value":1},"value":0},
                "tickSize":{"condition":{"test":"datum.value % 5 === 0","value":6.5},"value":3.5}}},
   "color":{"field":"s","type":"nominal","sort":null,
            "scale":{"domain":["100m","150m","200m","250m","300m","400m","500m","600m","700m","800m","900m","1000m","1100m","1200m","1300m"],
                     "range":["#c8141e","#d21e1e","#f01e1e","#ff2828","#ff4628","#ff6e28","#ff9628","#ffb414","#ffe600","#f0ff14","#96f000","#3cf03c","#00e678","#1ea0be","#1e28dc"]}},
   "strokeDash":{"field":"s","type":"nominal","sort":null,
            "scale":{"domain":["100m","150m","200m","250m","300m","400m","500m","600m","700m","800m","900m","1000m","1100m","1200m","1300m"],
                     "range":[[1,0],[8,5],[1,0],[8,5],[1,0],[1,0],[1,0],[1,0],[1,0],[1,0],[1,0],[1,0],[1,0],[1,0],[1,0]]}}
  }},
 {"data":{"name":"d"},"transform":[{"filter":"datum.p === 'a'"}],
  "mark":{"type":"line","opacity":0},
  "encoding":{
   "x":{"field":"x","type":"quantitative","axis":{"orient":"top","values":[140,145,150,155,160,165,170,175,180,185,190,195,200,205,210,215],"labels":false,"title":null,"grid":false,
        "tickSize":{"condition":{"test":"datum.value % 10 === 0","value":6},"value":3.5}}},
   "y":{"field":"y","type":"quantitative","axis":{"orient":"right","values":[23,24,25,26,27,28,29,30,31,32,33,34,35,36,37,38,39,40,41,42],"labels":false,"title":null,"grid":false,
        "tickSize":{"condition":{"test":"datum.value % 5 === 0","value":6.5},"value":3.5}}}
  }},
 {"data":{"name":"lab"},"transform":[{"filter":"datum.p === 'a'"}],
  "mark":{"type":"point","shape":"M-1,-0.5H1V0.5H-1Z","size":2304,"filled":true,"color":"white","opacity":1,"strokeWidth":0},
  "encoding":{"x":{"field":"x","type":"quantitative","axis":null},"y":{"field":"y","type":"quantitative","axis":null}}},
 {"data":{"name":"lab"},"transform":[{"filter":"datum.p === 'a'"}],
  "mark":{"type":"text","fontSize":25,"fontWeight":"bold","font":"Liberation Sans","color":"black","baseline":"middle","align":"center"},
  "encoding":{"x":{"field":"x","type":"quantitative","axis":null},"y":{"field":"y","type":"quantitative","axis":null},"text":{"field":"t"}}}
 ]},
{"width":434,"height":215,
 "resolve":{"axis":{"x":"independent","y":"independent"}},
 "layer":[
 {"data":{"name":"d"},"transform":[{"filter":"datum.p === 'b'"}],
  "mark":{"type":"line","strokeWidth":1.5,"clip":true},
  "encoding":{
   "x":{"field":"x","type":"quantitative","scale":{"domain":[140,215],"nice":false,"zero":false},
        "axis":{"orient":"bottom","values":[140,145,150,155,160,165,170,175,180,185,190,195,200,205,210,215],"title":"Longitude","titlePadding":9,"grid":true,"labelPadding":11,
                "labelExpr":"datum.value % 10 !== 0 ? '' : datum.value < 180 ? datum.value + '°E' : datum.value == 180 ? '180°' : (360 - datum.value) + '°W'",
                "gridOpacity":{"condition":{"test":"datum.value % 10 === 0","value":1},"value":0},
                "tickSize":{"condition":{"test":"datum.value % 10 === 0","value":6},"value":3.5}}},
   "y":{"field":"y","type":"quantitative","scale":{"domain":[22.1,42.5],"nice":false,"zero":false},
        "axis":{"orient":"left","values":[23,24,25,26,27,28,29,30,31,32,33,34,35,36,37,38,39,40,41,42],"title":null,"grid":true,"labelPadding":11,
                "labelExpr":"datum.value % 5 === 0 ? datum.value + '°N' : ''",
                "gridOpacity":{"condition":{"test":"datum.value % 5 === 0","value":1},"value":0},
                "tickSize":{"condition":{"test":"datum.value % 5 === 0","value":6.5},"value":3.5}}},
   "color":{"field":"s","type":"nominal","sort":null,
            "scale":{"domain":["100m","150m","200m","250m","300m","400m","500m","600m","700m","800m","900m","1000m","1100m","1200m","1300m"],
                     "range":["#c8141e","#d21e1e","#f01e1e","#ff2828","#ff4628","#ff6e28","#ff9628","#ffb414","#ffe600","#f0ff14","#96f000","#3cf03c","#00e678","#1ea0be","#1e28dc"]}},
   "strokeDash":{"field":"s","type":"nominal","sort":null,
            "scale":{"domain":["100m","150m","200m","250m","300m","400m","500m","600m","700m","800m","900m","1000m","1100m","1200m","1300m"],
                     "range":[[1,0],[8,5],[1,0],[8,5],[1,0],[1,0],[1,0],[1,0],[1,0],[1,0],[1,0],[1,0],[1,0],[1,0],[1,0]]}}
  }},
 {"data":{"name":"d"},"transform":[{"filter":"datum.p === 'b'"}],
  "mark":{"type":"line","opacity":0},
  "encoding":{
   "x":{"field":"x","type":"quantitative","axis":{"orient":"top","values":[140,145,150,155,160,165,170,175,180,185,190,195,200,205,210,215],"labels":false,"title":null,"grid":false,
        "tickSize":{"condition":{"test":"datum.value % 10 === 0","value":6},"value":3.5}}},
   "y":{"field":"y","type":"quantitative","axis":{"orient":"right","values":[23,24,25,26,27,28,29,30,31,32,33,34,35,36,37,38,39,40,41,42],"labels":false,"title":null,"grid":false,
        "tickSize":{"condition":{"test":"datum.value % 5 === 0","value":6.5},"value":3.5}}}
  }},
 {"data":{"name":"lab"},"transform":[{"filter":"datum.p === 'b'"}],
  "mark":{"type":"point","shape":"M-1,-0.5H1V0.5H-1Z","size":2304,"filled":true,"color":"white","opacity":1,"strokeWidth":0},
  "encoding":{"x":{"field":"x","type":"quantitative","axis":null},"y":{"field":"y","type":"quantitative","axis":null}}},
 {"data":{"name":"lab"},"transform":[{"filter":"datum.p === 'b'"}],
  "mark":{"type":"text","fontSize":25,"fontWeight":"bold","font":"Liberation Sans","color":"black","baseline":"middle","align":"center"},
  "encoding":{"x":{"field":"x","type":"quantitative","axis":null},"y":{"field":"y","type":"quantitative","axis":null},"text":{"field":"t"}}}
 ]}
]
}
